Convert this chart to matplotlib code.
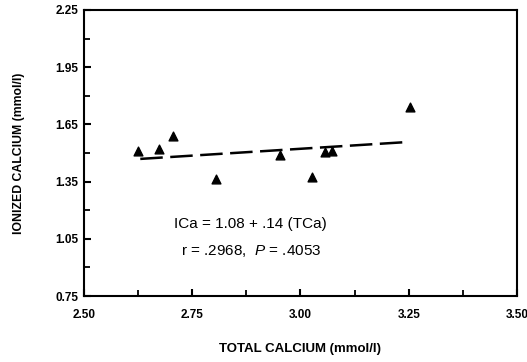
import matplotlib
matplotlib.use('Agg')
import matplotlib.pyplot as plt
import numpy as np

plt.rcParams['font.family'] = ['Liberation Sans', 'DejaVu Sans']
plt.rcParams['mathtext.fontset'] = 'custom'
plt.rcParams['mathtext.it'] = 'Liberation Sans:italic'
plt.rcParams['mathtext.rm'] = 'Liberation Sans'

# Data
total_ca = [2.625, 2.674, 2.706, 2.805, 2.953, 3.027, 3.057, 3.073, 3.254]
ionized_ca = [1.51, 1.52, 1.59, 1.362, 1.49, 1.376, 1.505, 1.51, 1.74]
fit_x = [2.63, 3.25]
fit_y = [1.469, 1.558]

x_ticks = [2.50, 2.75, 3.00, 3.25, 3.50]
y_ticks = [0.75, 1.05, 1.35, 1.65, 1.95, 2.25]

fig = plt.figure(figsize=(5.27, 3.62), dpi=100)
ax = fig.add_axes([0.1594, 0.1823, 0.8216, 0.7901])

ax.plot(fit_x, fit_y, color='black', linewidth=1.8, dashes=(9, 3))
ax.scatter(total_ca, ionized_ca, marker='^', s=40, color='black', zorder=3)

ax.set_xlim(2.5, 3.5)
ax.set_ylim(0.75, 2.25)
ax.set_xticks(x_ticks)
ax.set_xticklabels(['%.2f' % v for v in x_ticks])
ax.set_yticks(y_ticks)
ax.set_yticklabels(['%.2f' % v for v in y_ticks])
ax.set_xticks(np.arange(2.625, 3.5, 0.25), minor=True)
ax.set_yticks(np.arange(0.9, 2.25, 0.3), minor=True)

ax.tick_params(axis='both', which='major', direction='in', length=5, width=1.5,
               labelsize=8.5, pad=4)
ax.tick_params(axis='both', which='minor', direction='in', length=4, width=1.3)
for lbl in ax.get_xticklabels() + ax.get_yticklabels():
    lbl.set_fontweight('bold')
ax.tick_params(axis='x', pad=9)

for s in ax.spines.values():
    s.set_linewidth(1.5)

ax.set_xlabel('TOTAL CALCIUM (mmol/l)', fontsize=9.5, fontweight='bold', labelpad=16)
ax.set_ylabel('IONIZED CALCIUM (mmol/l)', fontsize=8.8, fontweight='bold', labelpad=22)

ax.text(2.885, 1.13, 'ICa = 1.08 + .14 (TCa)', fontsize=11, ha='center', va='center')
ax.text(2.885, 0.985, 'r = .2968,  $P$ = .4053', fontsize=11, ha='center', va='center')

plt.savefig('out.png', dpi=100)
